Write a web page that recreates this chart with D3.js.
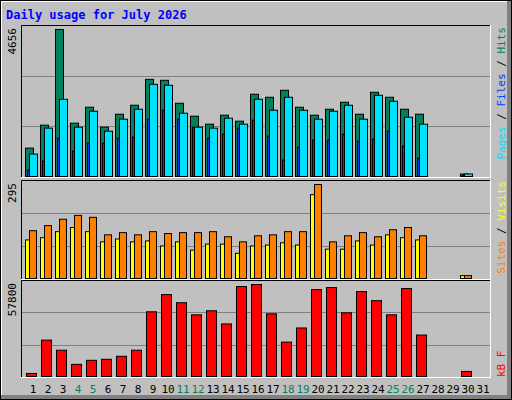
<!DOCTYPE html>
<html><head><meta charset="utf-8">
<script src="https://cdn.jsdelivr.net/npm/d3@7"></script>
<style>body{margin:0;background:#fff}svg{display:block}</style>
</head><body>
<script>
const days = d3.range(1, 32);
const weekend = [4, 5, 11, 12, 18, 19, 25, 26];
// values per day 1..31 (0 = no data)
const hits = [900,1626,4656,1689,2194,1563,1973,2257,3078,3047,2320,1910,1657,1942,1752,2605,2510,2731,2194,1942,2131,2352,1973,2668,2510,2131,1973,0,0,79,0];
const files = [710,1531,2447,1563,2068,1436,1815,2131,2920,2889,2005,1563,1531,1847,1657,2447,2099,2510,2099,1815,2068,2257,1815,2573,2384,1878,1657,0,0,79,0];
const pages = [205,489,1215,805,1058,1058,1215,1247,1815,2099,1815,1563,1215,1342,1531,1784,1279,521,931,1152,1152,1342,1121,1184,1436,963,584,0,0,40,0];
const visits = [121,128,147,160,147,115,124,115,118,102,115,89,108,108,79,102,105,112,105,263,92,92,118,105,137,128,121,0,0,9,0];
const sites = [150,166,186,198,192,137,144,137,147,141,144,144,147,131,115,134,137,147,147,295,115,134,144,131,153,160,134,0,0,9,0];
const kbytes = [1905,22864,16513,7621,10162,10797,12702,16513,40646,51443,46362,38741,41282,33025,56524,57800,39376,21593,30485,54619,55889,40011,53348,47633,38741,55253,26039,0,0,3176,0];
const maxLabels = ["4656", "295", "57800"];

const W = 512, H = 400;
const svg = d3.select("body").append("svg").attr("width", W).attr("height", H)
  .style("font-family", "'DejaVu Sans Mono', monospace");

svg.append("rect").attr("width", W).attr("height", H).attr("fill", "#c0c0c0");
svg.append("rect").attr("x", 0).attr("y", 0).attr("width", W).attr("height", 2).attr("fill", "#fff");
svg.append("rect").attr("x", 0).attr("y", 0).attr("width", 2).attr("height", H).attr("fill", "#fff");
svg.append("rect").attr("x", W - 5).attr("y", 0).attr("width", 5).attr("height", H).attr("fill", "#808080");
svg.append("rect").attr("x", 0).attr("y", H - 5).attr("width", W).attr("height", 5).attr("fill", "#808080");
svg.append("rect").attr("x", 0.5).attr("y", 0.5).attr("width", W - 1).attr("height", H - 1)
  .attr("fill", "none").attr("stroke", "#000");

svg.append("text").attr("x", 6).attr("y", 19).attr("fill", "#0000ff")
  .attr("font-size", 12).attr("font-weight", "bold").text("Daily usage for July 2026");

const x = d3.scaleLinear().domain([1, 31]).range([25, 475]);
const L = 21, R = 490;

const panels = [
  { top: 25, bottom: 177, max: 4656 },
  { top: 180, bottom: 279, max: 295 },
  { top: 280, bottom: 377, max: 57800 }
];

panels.forEach((p, i) => {
  const g = svg.append("g");
  [1, 2].forEach(k => {
    const yy = Math.round(p.top + (p.bottom - p.top) * k / 3) + 0.5;
    g.append("line").attr("x1", L).attr("x2", R).attr("y1", yy).attr("y2", yy)
      .attr("stroke", "#808080");
  });
  g.append("path").attr("d", `M${L + 0.5},${p.bottom}V${p.top + 0.5}H${R}`).attr("stroke", "#000").attr("fill", "none");
  g.append("path").attr("d", `M${R + 0.5},${p.top}V${p.bottom + 0.5}H${L}`).attr("stroke", "#fff").attr("fill", "none");
  g.append("text").attr("transform", `translate(16,${p.top + 3}) rotate(-90)`)
    .attr("text-anchor", "end").attr("font-size", 11).attr("fill", "#000").text(maxLabels[i]);
  p.y = d3.scaleLinear().domain([0, p.max]).range([p.bottom - 1, p.top + 4]);
});

function bars(series, panel, dx, w, color) {
  const y = panel.y;
  svg.append("g").selectAll("rect").data(days.filter(d => series[d - 1] > 0)).join("rect")
    .attr("x", d => x(d) + dx + 0.5)
    .attr("y", d => y(series[d - 1]) + 0.5)
    .attr("width", w)
    .attr("height", d => Math.max(1, y(0) - y(series[d - 1])))
    .attr("fill", color).attr("stroke", "#000");
}
bars(hits, panels[0], 0, 8, "#00805c");
bars(files, panels[0], 4, 8, "#00e0ff");
bars(pages, panels[0], 2, 2, "#0040ff");
bars(visits, panels[1], 0, 4, "#ffff00");
bars(sites, panels[1], 4, 7, "#ff8000");
bars(kbytes, panels[2], 1, 10, "#ff0000");

svg.append("g").selectAll("text").data(days).join("text")
  .attr("x", d => x(d) + 8).attr("y", 393).attr("text-anchor", "middle")
  .attr("font-size", 11).attr("fill", d => weekend.includes(d) ? "#00805c" : "#000")
  .text(d => d);

function sideLabel(parts, y0, anchor) {
  const t = svg.append("text").attr("transform", `translate(505,${y0}) rotate(-90)`)
    .attr("text-anchor", anchor).attr("font-size", 11);
  parts.forEach(([s, c]) => t.append("tspan").attr("fill", c).text(s));
}
sideLabel([["Pages", "#00e0ff"], [" / ", "#000"], ["Files", "#0040ff"], [" / ", "#000"], ["Hits", "#00805c"]], 27, "end");
sideLabel([["Sites", "#ff8000"], [" / ", "#000"], ["Visits", "#ffff00"]], 181, "end");
sideLabel([["kB F", "#ff0000"]], 377, "start");
</script>
</body></html>
